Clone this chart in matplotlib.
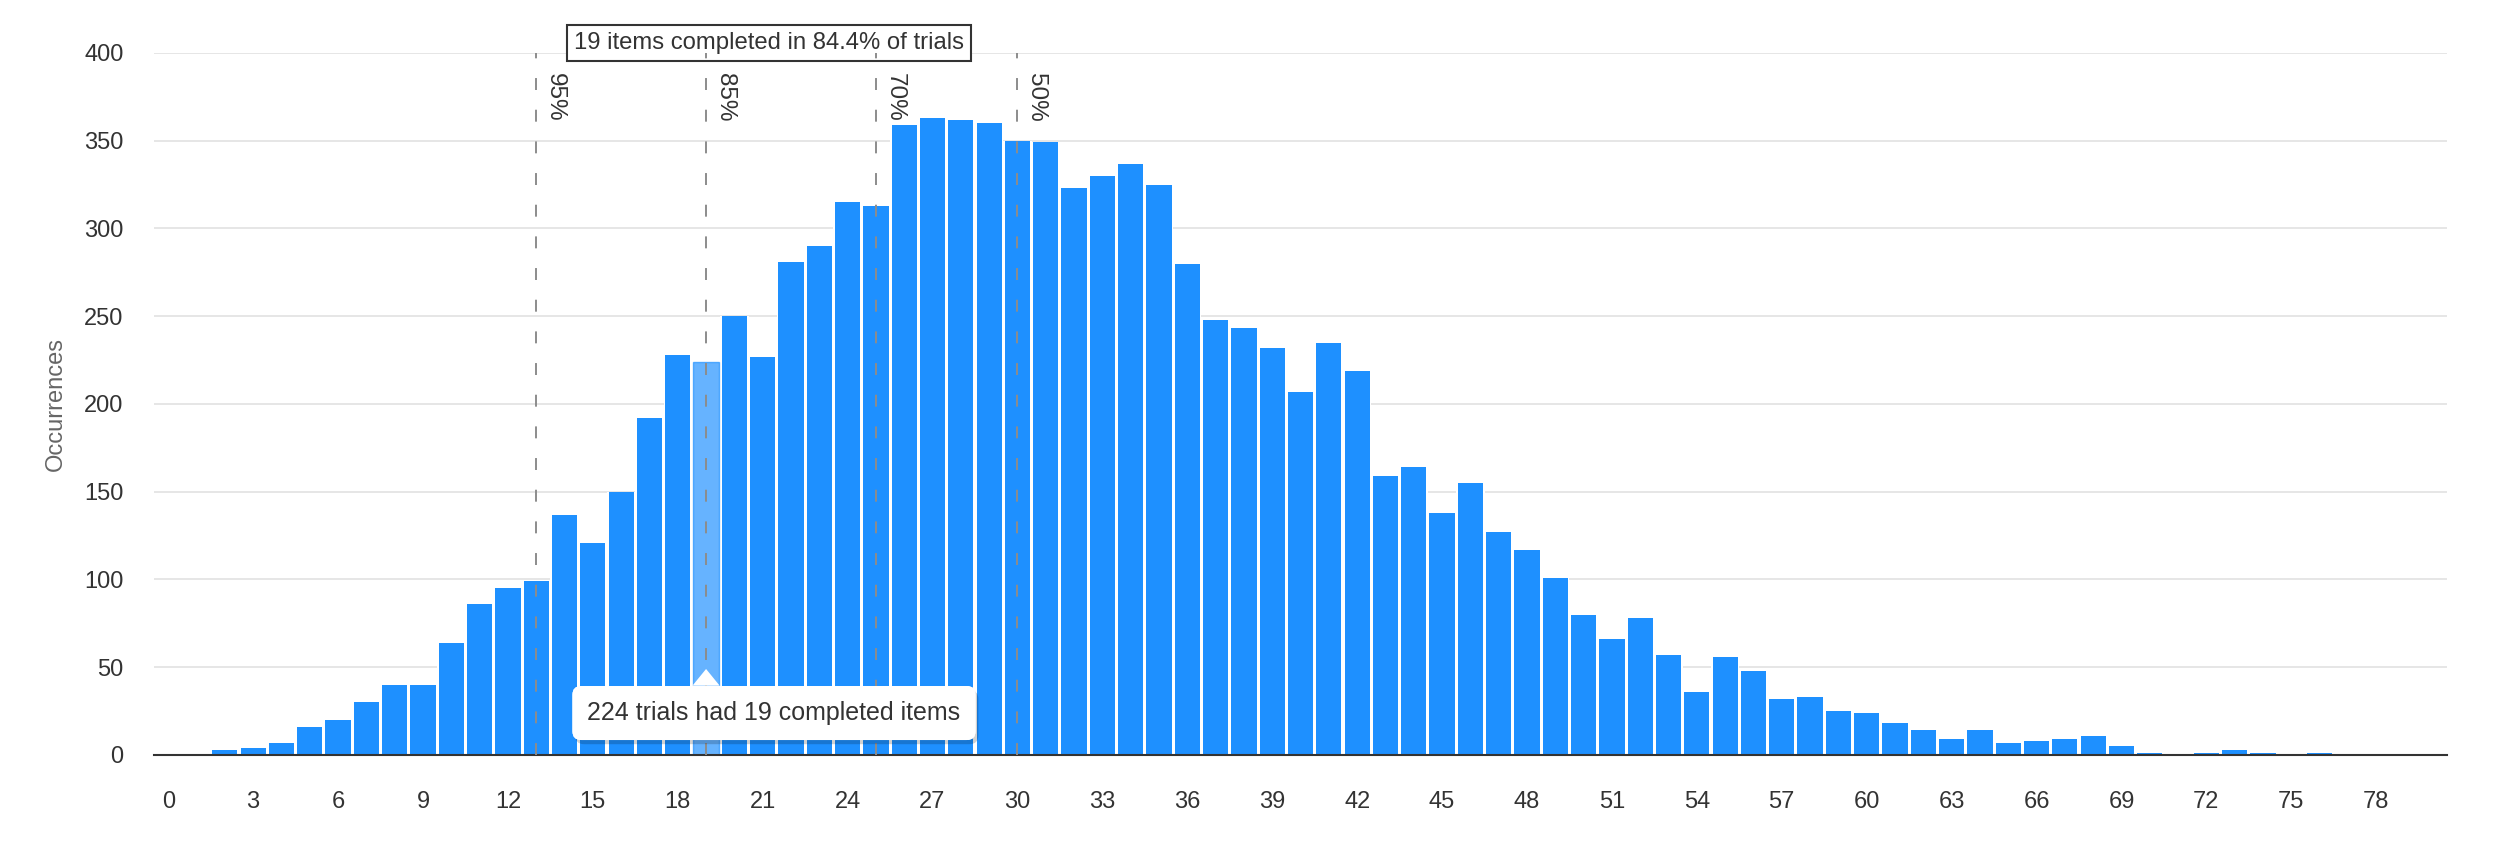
import matplotlib.pyplot as plt
from matplotlib.patches import Polygon
import matplotlib.patheffects as pe

plt.rcParams['font.family'] = ['Liberation Sans', 'DejaVu Sans']
plt.rcParams['lines.scale_dashes'] = False

# items completed per trial (0..80) and how often it happened
items = list(range(81))
occurrences = [0, 0, 3, 4, 7, 16, 20, 30, 40, 40,
               64, 86, 95, 99, 137, 121, 150, 192, 228, 224,
               250, 227, 281, 290, 315, 313, 359, 363, 362, 360,
               350, 349, 323, 330, 337, 325, 280, 248, 243, 232,
               207, 235, 219, 159, 164, 138, 155, 127, 117, 101,
               80, 66, 78, 57, 36, 56, 48, 32, 33, 25,
               24, 18, 14, 9, 14, 7, 8, 9, 11, 5,
               1, 0, 1, 3, 1, 0, 1, 0, 0, 0, 0]

# percentile markers
pct_items = [13, 19, 25, 30]
pct_labels = ["95%", "85%", "70%", "50%"]

selected = 19
selected_pct = 84.4

blue = "#1e90ff"

fig = plt.figure(figsize=(25.09, 8.46), dpi=100)
ax = fig.add_axes([0.0614, 0.1076, 0.9139, 0.8298])

# white backing bars hide the gridlines between columns
ax.bar(items, occurrences, width=1.0, color="white", zorder=2)
colors = [blue] * len(items)
bars = ax.bar(items, occurrences, width=0.89, color=colors, zorder=3)
bars[selected].set_color((30 / 255, 144 / 255, 1.0, 0.68))

ax.set_xlim(-0.5, 80.5)
ax.set_ylim(0, 400)
ax.set_xticks(range(0, 79, 3))
ax.set_yticks(range(0, 401, 50))
ax.set_axisbelow(True)
ax.grid(axis="y", color="#e6e6e6", linewidth=1.4)

for s in ["top", "right", "left"]:
    ax.spines[s].set_visible(False)
ax.spines["bottom"].set_color("#333333")
ax.spines["bottom"].set_linewidth(1.5)
ax.spines["bottom"].set_zorder(4)

ax.tick_params(axis="x", length=0, pad=26, labelsize=17, labelcolor="#333333")
ax.tick_params(axis="y", length=0, pad=22, labelsize=17, labelcolor="#333333")

ax.set_ylabel("Occurrences", fontsize=17, color="#666666")
ax.yaxis.set_label_coords(-0.038, 0.5)

# percentile lines
for x, lab in zip(pct_items, pct_labels):
    ax.axvline(x, ymin=0, ymax=1, color="#8c8c8c", linewidth=1.4,
               dashes=(8.6, 14.2), zorder=5)
    ax.annotate(lab, xy=(x, 400), xytext=(8, -20), textcoords="offset pixels",
                rotation=-90, ha="left", va="top", fontsize=17.5,
                color="#333333", zorder=6)

# summary box on top
ax.text(0.2682, 1.0142, f"{selected} items completed in {selected_pct}% of trials",
        transform=ax.transAxes, ha="center", va="center", fontsize=17.2,
        color="#333333", zorder=4, clip_on=False,
        bbox=dict(boxstyle="square,pad=0.3", fc="white", ec="#333333", lw=1.5))

# tooltip
tip = ax.text(21.4, 23.9, f"{occurrences[selected]} trials had {selected} completed items",
              ha="center", va="center", fontsize=18, color="#333333", zorder=7,
              bbox=dict(boxstyle="round,pad=0.6,rounding_size=0.35", fc="white", ec="none"))
tip.get_bbox_patch().set_path_effects(
    [pe.withSimplePatchShadow(offset=(2, -3), shadow_rgbFace="black", alpha=0.18), pe.Normal()])
ax.add_patch(Polygon([[selected - 0.48, 39.5], [selected, 49], [selected + 0.48, 39.5]],
                     closed=True, fc="white", ec="none", zorder=8))

fig.savefig("out.png", dpi=100, facecolor="white")
